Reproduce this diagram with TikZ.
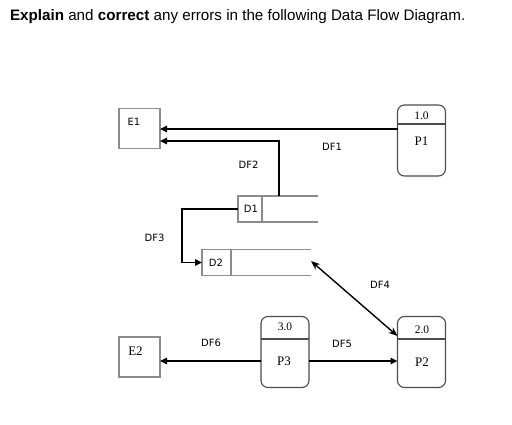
\documentclass[tikz,border=0pt]{standalone}
\usepackage{fontspec}
\setmainfont{Liberation Serif}
\newfontfamily\titlefont{Liberation Sans}
\newfontfamily\labelfont{DejaVu Sans}
\usetikzlibrary{arrows.meta}

\begin{document}
\begin{tikzpicture}[
  x=1pt, y=-1pt,
  every node/.style={inner sep=0pt,outer sep=0pt},
  dflabel/.style={font=\labelfont\fontsize{10}{12}\selectfont},
  numlabel/.style={font=\fontsize{11.5}{13}\selectfont},
  namelabel/.style={font=\fontsize{13}{15}\selectfont},
  entitybox/.style={draw=gray!90,line width=1.2pt,minimum width=41pt,minimum height=40pt},
  processbox/.style={draw=black!70,line width=1.1pt,rounded corners=7pt,minimum width=48pt,minimum height=71pt},
  storebox/.style={draw=gray!90,line width=1.2pt,minimum height=26pt},
  storeline/.style={draw=gray!90,line width=1.2pt},
  divider/.style={draw=black!70,line width=1.1pt},
  flow/.style={-{Triangle[length=7pt,width=6.5pt]},line width=1.6pt},
  twoway/.style={{Stealth[length=9pt,width=7pt]}-{Stealth[length=9pt,width=7pt]},line width=1.4pt}
]
\path[use as bounding box,fill=white] (0,0) rectangle (512,425);

\node[anchor=base west,font=\titlefont\fontsize{15.2}{18}\selectfont] (title) at (10,21)
  {\textbf{Explain} and \textbf{correct} any errors in the following Data Flow Diagram.};

% external entities
\node[entitybox] (e1) at (139.5,128.5) {};
\node[dflabel] (e1txt) at (134,121.5) {E1};
\node[entitybox] (e2) at (139.5,357) {};
\node[namelabel] (e2txt) at (135.5,351) {E2};

% processes
\node[processbox] (p1) at (421.5,140.5) {};
\node[processbox] (p2) at (421.5,352) {};
\node[processbox] (p3) at (285,352) {};
\draw[divider] ([yshift=-19pt]p1.north west) -- ([yshift=-19pt]p1.north east);
\draw[divider] ([yshift=-22.5pt]p2.north west) -- ([yshift=-22.5pt]p2.north east);
\draw[divider] ([yshift=-22.5pt]p3.north west) -- ([yshift=-22.5pt]p3.north east);
\node[numlabel] (p1num) at (421.5,116) {1.0};
\node[namelabel] (p1txt) at (421.5,141) {P1};
\node[numlabel] (p2num) at (422,330) {2.0};
\node[namelabel] (p2txt) at (422,362) {P2};
\node[numlabel] (p3num) at (285,327) {3.0};
\node[namelabel] (p3txt) at (284,361) {P3};

% data stores
\node[storebox,minimum width=24pt] (d1) at (250,209) {};
\node[dflabel] (d1txt) at (251,209) {D1};
\draw[storeline] (d1.north west) -- +(80,0);
\draw[storeline] (d1.south west) -- +(80,0);
\node[storebox,minimum width=29pt] (d2) at (216.5,262.5) {};
\node[dflabel] (d2txt) at (216,263) {D2};
\draw[storeline] (d2.north west) -- +(108.5,0);
\draw[storeline] (d2.south west) -- +(108.5,0);
\coordinate (d2end) at (311,261);

% data flows
\draw[flow] ([yshift=11.5pt]p1.west) -- ([yshift=-0.5pt]e1.east);
\draw[flow] ([xshift=29pt]d1.north) |- ([yshift=-12.5pt]e1.east);
\draw[flow] (d1.west) -- ++(-56,0) |- (d2.west);
\draw[twoway] (d2end) -- ([yshift=-19.5pt]p2.north west);
\draw[flow] ([yshift=-9pt]p3.east) -- ([yshift=-9pt]p2.west);
\draw[flow] ([yshift=-9pt]p3.west) -- ([yshift=-4pt]e2.east);

\node[dflabel] (df1) at (332,147) {DF1};
\node[dflabel] (df2) at (248.5,165) {DF2};
\node[dflabel] (df3) at (154.5,238) {DF3};
\node[dflabel] (df4) at (380,285) {DF4};
\node[dflabel] (df5) at (342,344) {DF5};
\node[dflabel] (df6) at (211,343) {DF6};
\end{tikzpicture}
\end{document}
